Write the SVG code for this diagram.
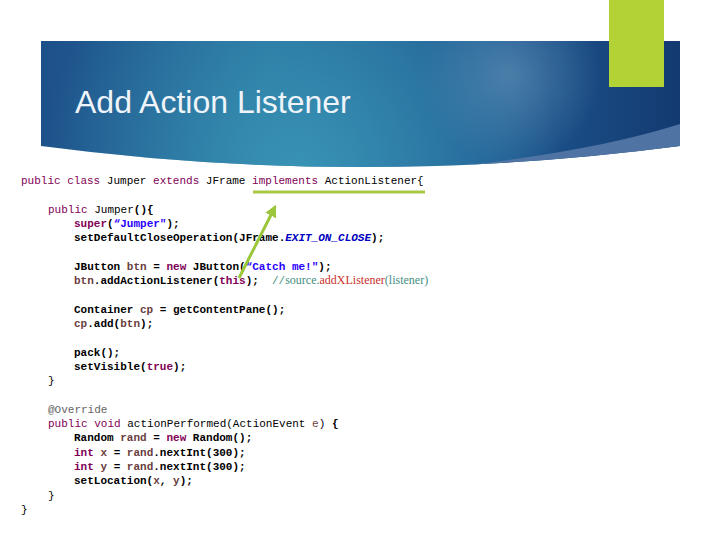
<svg xmlns="http://www.w3.org/2000/svg" width="720" height="540" viewBox="0 0 720 540">
<style>
text{white-space:pre}
.code{font-family:"Liberation Mono","DejaVu Sans Mono",monospace;font-size:11px;fill:#000}
.b{font-weight:bold}
.kw{fill:#7f0055}
.str{fill:#2a00ff}
.cst{fill:#0000c0;font-style:italic}
.var{fill:#6a3e3e}
.ann{fill:#646464}
.cm{fill:#3f8f7f}
.cmr{fill:#c8322a}
.serif{font-family:"Liberation Serif","Times New Roman",serif;font-size:12px}
</style>
<defs>
<linearGradient id="bg" x1="0" y1="0" x2="1" y2="0">
<stop offset="0" stop-color="#1d5089"/>
<stop offset="0.35" stop-color="#286f9c"/>
<stop offset="0.7" stop-color="#1f5a92"/>
<stop offset="1" stop-color="#133a71"/>
</linearGradient>
<radialGradient id="glow" cx="300" cy="175" r="260" gradientUnits="userSpaceOnUse">
<stop offset="0" stop-color="#3a98b8" stop-opacity="0.9"/>
<stop offset="1" stop-color="#3a98b8" stop-opacity="0"/>
</radialGradient>
<radialGradient id="spot" cx="510" cy="75" r="90" gradientUnits="userSpaceOnUse">
<stop offset="0" stop-color="#5b8db3" stop-opacity="0.7"/>
<stop offset="1" stop-color="#5b8db3" stop-opacity="0"/>
</radialGradient>
<clipPath id="bannerClip">
<path d="M41,41 H680 V146 Q360,188 41,146 Z"/>
</clipPath>
<marker id="ah" viewBox="0 0 10 10" refX="8" refY="5" markerWidth="4" markerHeight="4" orient="auto" markerUnits="strokeWidth">
<path d="M0,0 L10,5 L0,10 Z" fill="#9cc63c"/>
</marker>
</defs>
<rect width="720" height="540" fill="#fff"/>
<g id="banner">
<path d="M41,41 H680 V146 Q360,188 41,146 Z" fill="url(#bg)"/>
<path d="M41,41 H680 V146 Q360,188 41,146 Z" fill="url(#glow)"/>
<path d="M41,41 H680 V146 Q360,188 41,146 Z" fill="url(#spot)"/>
<path d="M680,124 Q580,156 400,172 L680,172 Z" fill="#4f74a3" clip-path="url(#bannerClip)"/>
</g>
<g id="accent">
<rect x="609" y="0" width="55" height="87" fill="#b2d235"/>
</g>
<g id="title">
<text x="75" y="113" font-family="Liberation Sans, Arial, sans-serif" font-size="32" fill="#eef4fa">Add Action Listener</text>
</g>
<g id="code" class="code">
<text x="21" y="184"><tspan class="kw">public</tspan> <tspan class="kw">class</tspan> Jumper <tspan class="kw">extends</tspan> JFrame <tspan class="kw">implements</tspan> ActionListener{</text>
<text x="48" y="212.6"><tspan class="kw">public</tspan> Jumper<tspan class="b">(){</tspan></text>
<text x="74" y="226.9" class="b"><tspan class="kw">super</tspan>(<tspan class="str">“Jumper"</tspan>);</text>
<text x="74" y="241.2" class="b">setDefaultCloseOperation(JFrame.<tspan class="cst">EXIT_ON_CLOSE</tspan>);</text>
<text x="74" y="269.8" class="b">JButton <tspan class="var">btn</tspan> = <tspan class="kw">new</tspan> JButton(<tspan class="str">“Catch me!"</tspan>);</text>
<text x="74" y="284.1" class="b"><tspan class="var">btn</tspan>.addActionListener(<tspan class="kw">this</tspan>);</text>
<text x="272" y="284.1"><tspan class="cm">//</tspan><tspan class="cm serif">source.</tspan><tspan class="cmr serif">addXListener</tspan><tspan class="cm serif">(listener)</tspan></text>
<text x="74" y="312.7" class="b">Container <tspan class="var">cp</tspan> = getContentPane();</text>
<text x="74" y="327" class="b"><tspan class="var">cp</tspan>.add(<tspan class="var">btn</tspan>);</text>
<text x="74" y="355.6" class="b">pack();</text>
<text x="74" y="369.9" class="b">setVisible(<tspan class="kw">true</tspan>);</text>
<text x="48" y="384.2">}</text>
<text x="48" y="412.8" class="ann">@Override</text>
<text x="48" y="427.1"><tspan class="kw">public</tspan> <tspan class="kw">void</tspan> actionPerformed(ActionEvent <tspan class="var">e</tspan>) <tspan class="b">{</tspan></text>
<text x="74" y="441.4" class="b">Random <tspan class="var">rand</tspan> = <tspan class="kw">new</tspan> Random();</text>
<text x="74" y="455.7" class="b"><tspan class="kw">int</tspan> <tspan class="var">x</tspan> = <tspan class="var">rand</tspan>.nextInt(300);</text>
<text x="74" y="470" class="b"><tspan class="kw">int</tspan> <tspan class="var">y</tspan> = <tspan class="var">rand</tspan>.nextInt(300);</text>
<text x="74" y="484.3" class="b">setLocation(<tspan class="var">x</tspan>, <tspan class="var">y</tspan>);</text>
<text x="48" y="498.6">}</text>
<text x="21" y="512.9">}</text>
</g>
<g id="connectors">
<line x1="253" y1="192" x2="425" y2="192" stroke="#a8c846" stroke-width="3"/>
<line x1="239" y1="278" x2="275" y2="207" stroke="#9cc63c" stroke-width="3" marker-end="url(#ah)"/>
</g>
</svg>
